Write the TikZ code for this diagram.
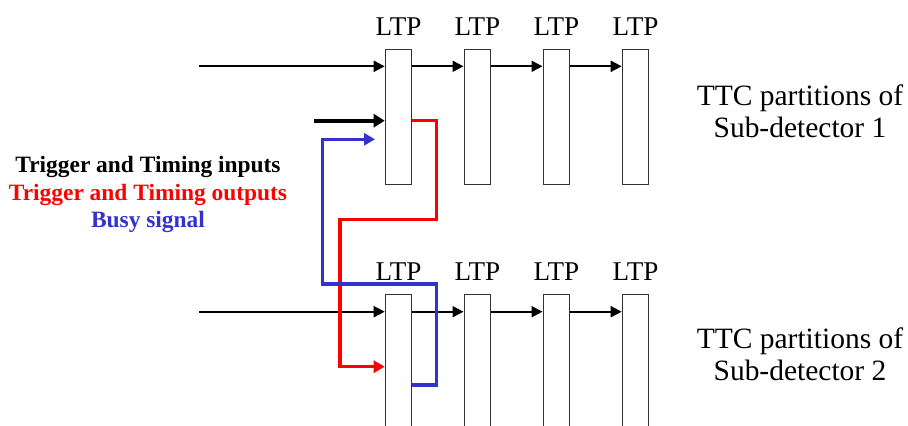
\documentclass[tikz,border=0pt]{standalone}
\usepackage{fontspec}
\setmainfont{Liberation Serif}
\usetikzlibrary{arrows.meta,calc}
\definecolor{sigred}{RGB}{255,0,0}
\definecolor{sigblue}{RGB}{51,51,204}
\begin{document}
\begin{tikzpicture}[x=1bp,y=-1bp,
  ltpbox/.style={draw=black!80,line width=1.2bp,fill=white,minimum width=26.5bp,minimum height=135bp,inner sep=0pt,anchor=north west},
  ltplabel/.style={font=\fontsize{27.2}{27}\selectfont,anchor=base,inner sep=0pt},
  sidelabel/.style={font=\fontsize{29.6}{32}\selectfont,align=center,inner sep=0pt,anchor=base},
  keylabel/.style={font=\fontsize{23.5}{24}\selectfont\bfseries,inner sep=0pt,anchor=base},
  thinarr/.style={line width=2bp,-{Triangle[length=11bp,width=11bp]}},
  thickarr/.style={line width=4bp,-{Triangle[length=11bp,width=13bp]}},
  sigline/.style={line width=3.5bp,line join=miter,-{Triangle[length=11bp,width=12bp]}}
]
\useasboundingbox (0,0) rectangle (908,425);
\clip (0,0) rectangle (908,425);
\fill[white] (0,0) rectangle (908,425);

% top row of LTPs
\foreach \i/\x in {1/384.7,2/463.5,3/542.5,4/621.7}{
  \node[ltpbox] (a\i) at (\x,49) {};
  \node[ltplabel] (la\i) at ($(a\i.north)+(0,-14)$) {LTP};
  \node[ltpbox,minimum height=150bp] (b\i) at (\x,294) {};
  \node[ltplabel] (lb\i) at ($(b\i.north)+(0,-14)$) {LTP};
}

% key text
\node[keylabel] (k1) at (148,172) {Trigger and Timing inputs};
\node[keylabel,text=sigred] (k2) at (148,200) {Trigger and Timing outputs};
\node[keylabel,text=sigblue] (k3) at (148,227) {Busy signal};

% side labels
\node[sidelabel] (s1) at (800,137) {TTC partitions of\\Sub-detector 1};
\node[sidelabel] (s2) at (800,380) {TTC partitions of\\Sub-detector 2};

% chains
\coordinate (in1) at (199,66.3);
\coordinate (in2) at (199,311.7);
\draw[thinarr] (in1) -- (in1 -| a1.west);
\draw[thinarr] (in1 -| a1.east) -- (in1 -| a2.west);
\draw[thinarr] (in1 -| a2.east) -- (in1 -| a3.west);
\draw[thinarr] (in1 -| a3.east) -- (in1 -| a4.west);
\draw[thinarr] (in2) -- (in2 -| b1.west);
\draw[thinarr] (in2 -| b1.east) -- (in2 -| b2.west);
\draw[thinarr] (in2 -| b2.east) -- (in2 -| b3.west);
\draw[thinarr] (in2 -| b3.east) -- (in2 -| b4.west);

% thick trigger input
\coordinate (tin) at (314,120.7);
\draw[thickarr] (tin) -- (tin -| a1.west);

% red trigger output
\coordinate (rA) at (436.7,120.7);
\coordinate (rB) at (436.7,219.3);
\coordinate (rC) at (340,219.3);
\coordinate (rD) at (340,366.7);
\draw[sigline,sigred] (rA -| a1.east) -- (rA) -- (rB) -- (rC) -- (rD) -- (rD -| b1.west);

% blue busy
\coordinate (bA) at (436.7,385);
\coordinate (bB) at (436.7,284);
\coordinate (bC) at (322.7,284);
\coordinate (bD) at (322.7,139.3);
\coordinate (bE) at (375,139.3);
\draw[sigline,sigblue] (bA -| b1.east) -- (bA) -- (bB) -- (bC) -- (bD) -- (bE);
\end{tikzpicture}
\end{document}
